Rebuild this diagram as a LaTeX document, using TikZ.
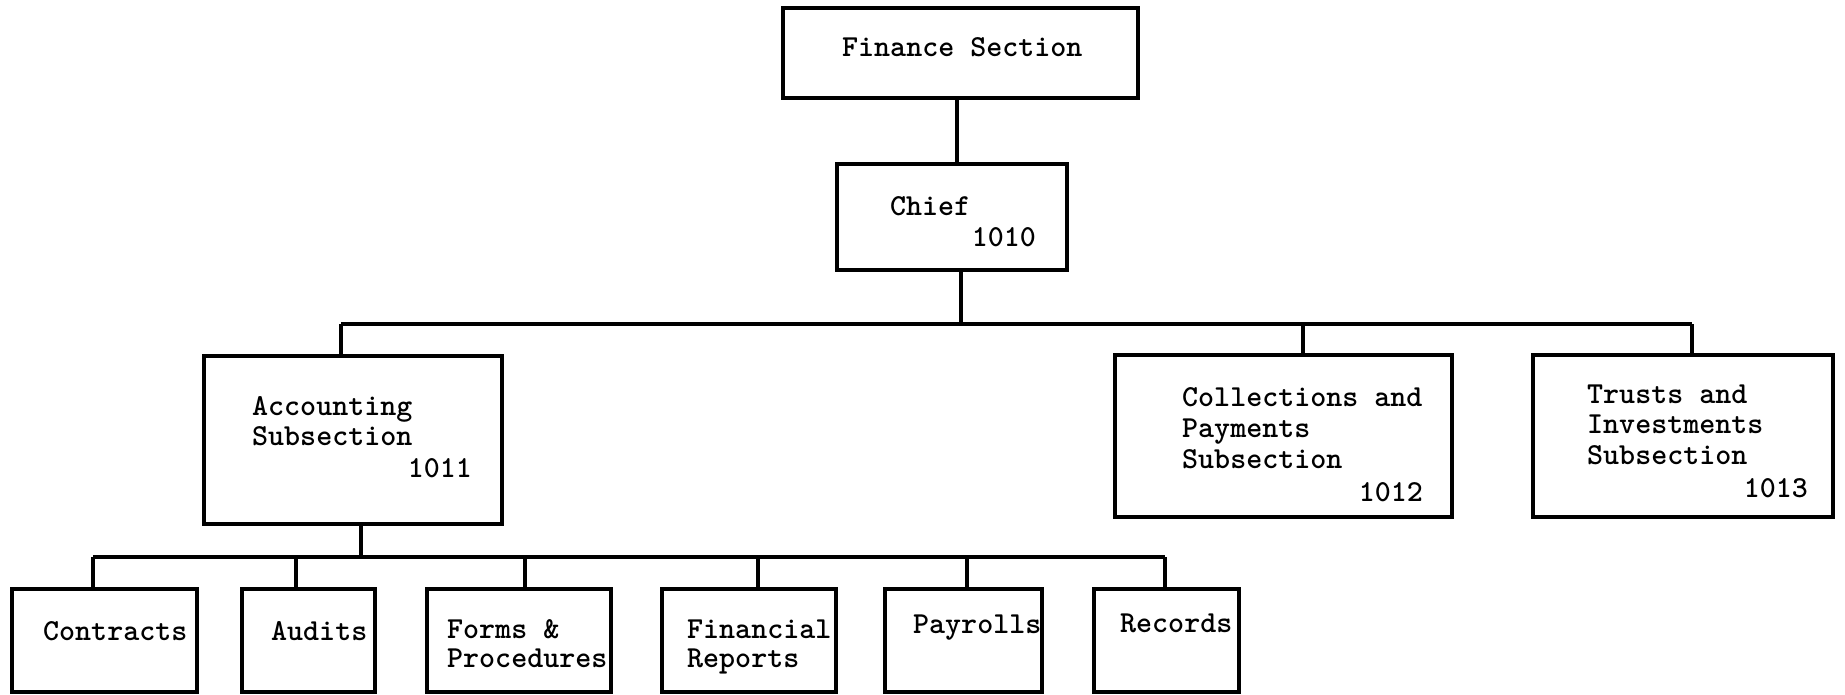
\documentclass[tikz,border=0pt]{standalone}
\begin{document}
\begin{tikzpicture}[x=1pt,y=-1pt,
  unit/.style={draw, rectangle, line width=3.4pt, inner sep=0pt, outer sep=0pt},
  conn/.style={line width=3.4pt},
  txt/.style={font=\ttfamily\bfseries\fontsize{30.5}{30}\selectfont, inner sep=0pt, anchor=base west},
  num/.style={txt, anchor=base east}]
\useasboundingbox[fill=white] (0,0) rectangle (1845,695);

% boxes
\node[unit, minimum width=355pt, minimum height=90pt]  (fin)    at (960.5,53) {};
\node[unit, minimum width=230pt, minimum height=106pt] (chief)  at (952,217) {};
\node[unit, minimum width=298pt, minimum height=168pt] (acct)   at (353,440) {};
\node[unit, minimum width=337pt, minimum height=162pt] (coll)   at (1283.5,436) {};
\node[unit, minimum width=300pt, minimum height=162pt] (trust)  at (1683,436) {};
\node[unit, minimum width=185pt, minimum height=103pt] (contr)  at (104.5,640.5) {};
\node[unit, minimum width=133pt, minimum height=103pt] (audit)  at (308.5,640.5) {};
\node[unit, minimum width=184pt, minimum height=103pt] (forms)  at (519,640.5) {};
\node[unit, minimum width=174pt, minimum height=103pt] (finrep) at (749,640.5) {};
\node[unit, minimum width=157pt, minimum height=103pt] (pay)    at (963.5,640.5) {};
\node[unit, minimum width=145pt, minimum height=103pt] (rec)    at (1166.5,640.5) {};

% texts
\node[txt] (tfin) at (842,57) {Finance Section};
\node[txt] (tchief) at (890,216) {Chief};
\node[num] (nchief) at (1036,247) {1010};
\node[txt] (tacct1) at (252,415) {Accounting};
\node[txt] (tacct2) at (252,445) {Subsection};
\node[num] (nacct) at (472,477) {1011};
\node[txt] (tcoll1) at (1182,406) {Collections and};
\node[txt] (tcoll2) at (1182,437) {Payments};
\node[txt] (tcoll3) at (1182,468) {Subsection};
\node[num] (ncoll) at (1423,501) {1012};
\node[txt] (ttr1) at (1587,403) {Trusts and};
\node[txt] (ttr2) at (1587,433) {Investments};
\node[txt] (ttr3) at (1587,464) {Subsection};
\node[num] (ntr) at (1808,497) {1013};
\node[txt] (tcontr) at (43,640) {Contracts};
\node[txt] (taudit) at (271,640) {Audits};
\node[txt] (tforms1) at (447,638) {Forms \&};
\node[txt] (tforms2) at (447,667) {Procedures};
\node[txt] (tfr1) at (687,638) {Financial};
\node[txt] (tfr2) at (687,667) {Reports};
\node[txt] (tpay) at (913,633) {Payrolls};
\node[txt] (trec) at (1120,632) {Records};

% branch points
\coordinate (fX) at (957,131);
\coordinate (bX) at (961,324);
\coordinate (bA) at (341,324);
\coordinate (bB) at (1303,324);
\coordinate (bC) at (1692,324);
\coordinate (cX) at (361,557);
\coordinate (c1) at (93,557);
\coordinate (c2) at (296,557);
\coordinate (c3) at (525,557);
\coordinate (c4) at (758,557);
\coordinate (c5) at (967,557);
\coordinate (c6) at (1165,557);

% connectors
\draw[conn] (fin.south -| fX) -- (chief.north -| fX);
\draw[conn] (chief.south -| bX) -- (bX);
\draw[conn] (bA) -- (bC);
\draw[conn] (bA) -- (bA |- acct.north);
\draw[conn] (bB) -- (bB |- coll.north);
\draw[conn] (bC) -- (bC |- trust.north);
\draw[conn] (acct.south -| cX) -- (cX);
\draw[conn] (c1) -- (c6);
\draw[conn] (c1) -- (c1 |- contr.north);
\draw[conn] (c2) -- (c2 |- audit.north);
\draw[conn] (c3) -- (c3 |- forms.north);
\draw[conn] (c4) -- (c4 |- finrep.north);
\draw[conn] (c5) -- (c5 |- pay.north);
\draw[conn] (c6) -- (c6 |- rec.north);
\end{tikzpicture}
\end{document}
